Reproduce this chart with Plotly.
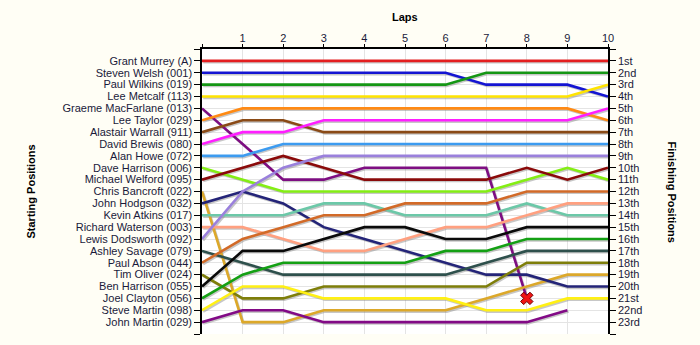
import plotly.graph_objects as go

laps = list(range(0, 11))
drivers = [
    "Grant Murrey (A)", "Steven Welsh (001)", "Paul Wilkins (019)", "Lee Metcalf (113)",
    "Graeme MacFarlane (013)", "Lee Taylor (029)", "Alastair Warrall (911)", "David Brewis (080)",
    "Alan Howe (072)", "Dave Harrison (006)", "Michael Welford (095)", "Chris Bancroft (022)",
    "John Hodgson (032)", "Kevin Atkins (017)", "Richard Waterson (003)", "Lewis Dodsworth (092)",
    "Ashley Savage (079)", "Paul Abson (044)", "Tim Oliver (024)", "Ben Harrison (055)",
    "Joel Clayton (056)", "Steve Martin (098)", "John Martin (029)",
]
finish_labels = ["1st", "2nd", "3rd", "4th", "5th", "6th", "7th", "8th", "9th", "10th", "11th",
                 "12th", "13th", "14th", "15th", "16th", "17th", "18th", "19th", "20th", "21st",
                 "22nd", "23rd"]
lap_labels = ["", "1", "2", "3", "4", "5", "6", "7", "8", "9", "10"]

grant = [1, 1, 1, 1, 1, 1, 1, 1, 1, 1, 1]
steven = [2, 2, 2, 2, 2, 2, 2, 3, 3, 3, 4]
paul_w = [3, 3, 3, 3, 3, 3, 3, 2, 2, 2, 2]
lee_m = [4, 4, 4, 4, 4, 4, 4, 4, 4, 4, 3]
graeme = [5, 8, 11, 11, 10, 10, 10, 10, 21, None, None]
lee_t = [6, 5, 5, 5, 5, 5, 5, 5, 5, 5, 6]
alastair = [7, 6, 6, 7, 7, 7, 7, 7, 7, 7, 7]
david = [8, 7, 7, 6, 6, 6, 6, 6, 6, 6, 5]
alan = [9, 9, 8, 8, 8, 8, 8, 8, 8, 8, 8]
dave = [10, 11, 12, 12, 12, 12, 12, 12, 11, 10, 11]
michael = [11, 10, 9, 10, 11, 11, 11, 11, 10, 11, 10]
chris = [12, 23, 23, 22, 22, 22, 22, 21, 20, 19, 19]
john_h = [13, 12, 13, 15, 16, 17, 18, 19, 19, 20, 20]
kevin = [14, 14, 14, 13, 13, 14, 14, 14, 13, 14, 14]
richard = [15, 15, 16, 17, 17, 16, 15, 15, 14, 13, 13]
lewis = [16, 12, 10, 9, 9, 9, 9, 9, 9, 9, 9]
ashley = [17, 18, 19, 19, 19, 19, 19, 18, 17, 17, 17]
paul_a = [18, 16, 15, 14, 14, 13, 13, 13, 12, 12, 12]
tim = [19, 21, 21, 20, 20, 20, 20, 20, 18, 18, 18]
ben = [20, 17, 17, 16, 15, 15, 16, 16, 15, 15, 15]
joel = [21, 19, 18, 18, 18, 18, 17, 17, 16, 16, 16]
steve = [22, 20, 20, 21, 21, 21, 21, 22, 22, 21, 21]
john_m = [23, 22, 22, 23, 23, 23, 23, 23, 23, 22, None]

series = [grant, steven, paul_w, lee_m, graeme, lee_t, alastair, david, alan, dave, michael,
          chris, john_h, kevin, richard, lewis, ashley, paul_a, tim, ben, joel, steve, john_m]
colors = ["#E41E20", "#1414D2", "#149614", "#FFE400", "#7E0E82", "#FF8A14", "#8A4A16",
          "#FF1EFF", "#3C9BF0", "#84EE14", "#8A0A0A", "#DCA82A", "#242478", "#6CC8A8",
          "#FFA080", "#9A80DC", "#2E504C", "#D26A28", "#7E7E0A", "#0A0A0A", "#14A014",
          "#FFF014", "#820A86"]

retired_lap = [8]
retired_pos = [21]

fig = go.Figure()

# shadows
for ys in series:
    xs = [x + 0.03 if y is not None else None for x, y in zip(laps, ys)]
    yy = [y + 0.12 if y is not None else None for y in ys]
    fig.add_trace(go.Scatter(x=xs, y=yy, mode="lines", line=dict(color="rgba(130,130,130,0.45)", width=2.4),
                             hoverinfo="skip", showlegend=False))
for name, ys, c in zip(drivers, series, colors):
    fig.add_trace(go.Scatter(x=laps, y=ys, mode="lines", name=name, line=dict(color=c, width=2.6),
                             showlegend=False))

fig.add_trace(go.Scatter(x=retired_lap, y=retired_pos, mode="markers",
                         marker=dict(symbol="x", size=11, color="#F01414", line=dict(color="#700000", width=1)),
                         showlegend=False, hoverinfo="skip"))

# dummy for right axis
fig.add_trace(go.Scatter(x=[None], y=[None], yaxis="y2", showlegend=False))

tick_font = dict(family="Liberation Sans, Arial, sans-serif", size=11, color="#1a1a3a")
pos_vals = list(range(0, 25))
left_text = [""] + drivers + [""]
right_text = [""] + finish_labels + [""]

fig.update_layout(
    width=700, height=345,
    margin=dict(l=202, r=92, t=49, b=11),
    paper_bgcolor="#FFFEF5",
    plot_bgcolor="#FFFFFF",
    xaxis=dict(range=[0, 10], side="top", tickvals=laps, ticktext=lap_labels, ticks="outside",
               ticklen=3, tickcolor="black", showline=True, linecolor="black", linewidth=1.5,
               showgrid=True, gridcolor="#E4E4E4", gridwidth=1, zeroline=False, tickfont=tick_font,
               ticklabelstandoff=-2),
    yaxis=dict(range=[24, 0], tickvals=pos_vals, ticktext=left_text, ticks="outside", ticklen=6,
               tickcolor="black", showline=True, linecolor="black", linewidth=1.5, showgrid=True,
               gridcolor="#E4E4E4", gridwidth=1, zeroline=False, tickfont=tick_font),
    yaxis2=dict(range=[24, 0], overlaying="y", side="right", tickvals=pos_vals, ticktext=right_text,
                ticks="outside", ticklen=6, tickcolor="black", showline=True, linecolor="black",
                linewidth=1.5, showgrid=False, zeroline=False, tickfont=tick_font),
    annotations=[
        dict(text="<b>Laps</b>", xref="paper", yref="paper", x=0.5, y=1, yanchor="middle", yshift=32,
             showarrow=False, font=dict(family="Liberation Sans, Arial, sans-serif", size=11, color="black")),
        dict(text="<b>Starting Positions</b>", xref="paper", yref="paper", x=0, y=0.5,
             xanchor="center", yanchor="middle", xshift=-172, showarrow=False, textangle=-90,
             font=dict(family="Liberation Sans, Arial, sans-serif", size=11, color="black")),
        dict(text="<b>Finishing Positions</b>", xref="paper", yref="paper", x=1, y=0.5,
             xanchor="center", yanchor="middle", xshift=64, showarrow=False, textangle=90,
             font=dict(family="Liberation Sans, Arial, sans-serif", size=11, color="black")),
    ],
)

fig.write_html("out.html")
